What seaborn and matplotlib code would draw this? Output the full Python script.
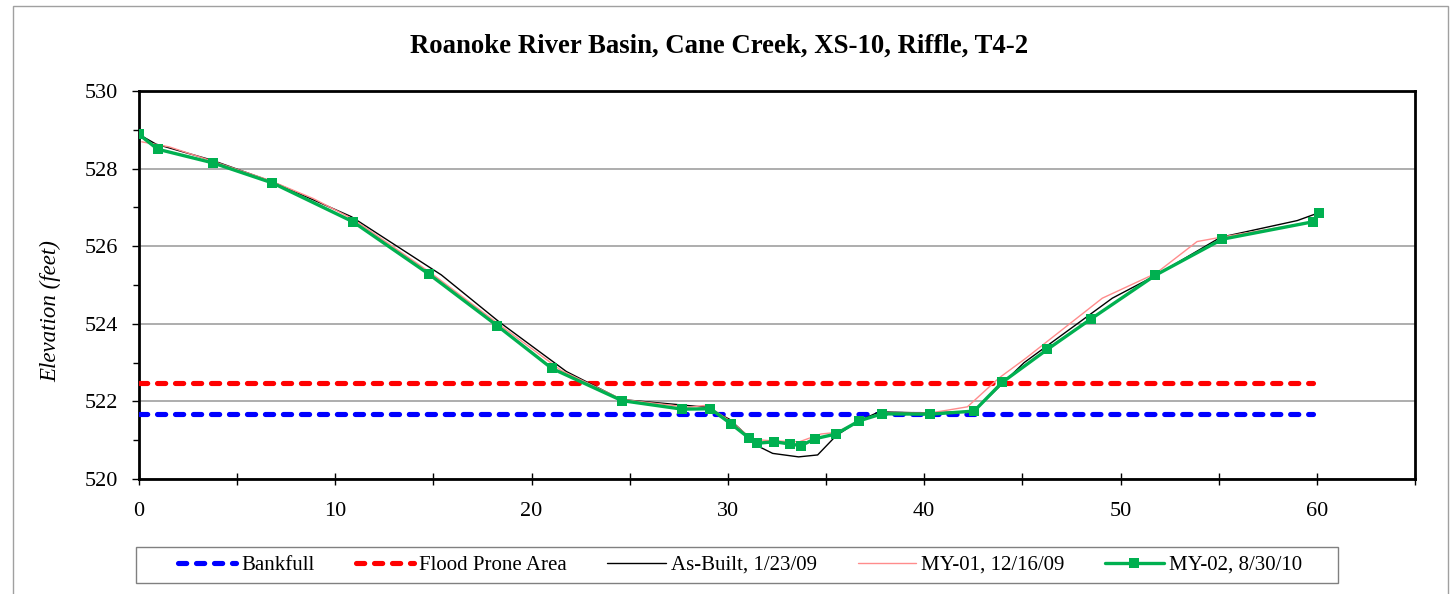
import matplotlib
matplotlib.use("Agg")
import matplotlib.pyplot as plt
import seaborn as sns
import pandas as pd
from matplotlib.lines import Line2D
from matplotlib.patches import Rectangle

sns.set_theme(style="white")
plt.rcParams['font.family'] = ['Liberation Serif', 'DejaVu Serif']
plt.rcParams['text.color'] = 'black'
plt.rcParams['axes.labelcolor'] = 'black'
plt.rcParams['xtick.color'] = 'black'
plt.rcParams['ytick.color'] = 'black'

title = "Roanoke River Basin, Cane Creek, XS-10, Riffle, T4-2"
ylabel = "Elevation (feet)"

bankfull_x = [0, 59.8]
bankfull_y = [521.67, 521.67]
flood_x = [0, 59.8]
flood_y = [522.48, 522.48]

asbuilt_x = [0, 0.87, 3.7, 6.8, 10.82, 15.4, 18.37, 21.77, 24.56, 28.9, 30.08, 31.6, 32.28, 33.6,
             34.57, 35.5, 36.6, 37.7, 40.3, 42.54, 45.09, 49.58, 51.8, 55.1, 59.0, 60.09]
asbuilt_y = [528.88, 528.63, 528.22, 527.66, 526.76, 525.26, 524.04, 522.77, 522.05, 521.85, 521.54,
             520.83, 520.66, 520.57, 520.62, 521.11, 521.48, 521.73, 521.7, 521.75, 523.0, 524.66,
             525.25, 526.23, 526.66, 526.86]

my01_x = [0.14, 1.54, 3.7, 6.58, 8.87, 10.9, 14.9, 18.3, 21.5, 24.6, 28.0, 28.9, 30.1, 31.25, 32.4,
          33.64, 34.74, 35.5, 36.7, 37.8, 40.3, 42.2, 43.8, 45.17, 49.07, 51.8, 53.9, 55.1, 59.81]
my01_y = [528.69, 528.56, 528.2, 527.71, 527.23, 526.7, 525.3, 524.0, 522.8, 522.05, 521.85, 521.9,
          521.5, 521.02, 520.98, 520.96, 521.16, 521.2, 521.5, 521.7, 521.7, 521.86, 522.6, 523.11,
          524.66, 525.3, 526.12, 526.23, 526.63]

my02_x = [0.0, 0.95, 3.75, 6.8, 10.9, 14.77, 18.25, 21.03, 24.6, 27.67, 29.11, 30.16, 31.09, 31.47,
          32.37, 33.18, 33.72, 34.45, 35.51, 36.69, 37.85, 40.29, 42.54, 43.97, 46.27, 48.48, 51.77,
          55.18, 59.81, 60.09]
my02_y = [528.88, 528.50, 528.15, 527.63, 526.63, 525.28, 523.95, 522.85, 522.02, 521.80, 521.81,
          521.42, 521.05, 520.92, 520.96, 520.90, 520.86, 521.04, 521.16, 521.50, 521.68, 521.67,
          521.75, 522.49, 523.34, 524.12, 525.25, 526.18, 526.63, 526.86]

labels = ["Bankfull", "Flood Prone Area", "As-Built, 1/23/09", "MY-01, 12/16/09", "MY-02, 8/30/10"]

W, H = 1456, 594
fig = plt.figure(figsize=(W / 100, H / 100), dpi=100)
ax = fig.add_axes([139 / W, 1 - 479 / H, (1415 - 139) / W, (479 - 91) / H])

ax.set_xlim(0, 65)
ax.set_ylim(520, 530)
ax.set_yticks([520, 522, 524, 526, 528, 530])
ax.set_yticks([521, 523, 525, 527, 529], minor=True)
ax.set_xticks([0, 10, 20, 30, 40, 50, 60])
ax.set_xticks([5, 15, 25, 35, 45, 55, 65], minor=True)
ax.grid(axis='y', which='major', color='#a0a0a0', linewidth=1.2)
ax.set_axisbelow(True)

dash = (1.6, 1.9)
sns.lineplot(x=bankfull_x, y=bankfull_y, ax=ax, color='#0000ff', linewidth=3.7,
             linestyle=(0, dash), dash_capstyle='round', estimator=None, sort=False, zorder=3)
sns.lineplot(x=flood_x, y=flood_y, ax=ax, color='#ff0000', linewidth=3.7,
             linestyle=(0, dash), dash_capstyle='round', estimator=None, sort=False, zorder=3)
sns.lineplot(x=asbuilt_x, y=asbuilt_y, ax=ax, color='black', linewidth=1.0,
             estimator=None, sort=False, zorder=4)
sns.lineplot(x=my01_x, y=my01_y, ax=ax, color='#ff8c8c', linewidth=1.0,
             estimator=None, sort=False, zorder=4)
sns.lineplot(x=my02_x, y=my02_y, ax=ax, color='#00b050', linewidth=2.4, marker='s',
             markersize=7, markeredgewidth=0, estimator=None, sort=False, zorder=5)

for s in ax.spines.values():
    s.set_visible(True)
    s.set_color('black')
    s.set_linewidth(2.0)

ax.tick_params(axis='both', which='both', direction='out', color='black', length=5, width=1,
               labelsize=16, labelcolor='black', bottom=True, left=True)
ax.tick_params(axis='both', which='minor', length=4)
ax.tick_params(axis='x', which='both', direction='inout', length=9, pad=12)
ax.tick_params(axis='y', pad=10)

ax.set_xlabel("")
ax.set_ylabel(ylabel, fontsize=16.5, style='italic')
ax.yaxis.set_label_coords(-0.061, 1 - (311 - 91) / 388)
fig.text(719 / W, 1 - 46 / H, title, ha='center', va='center',
         fontsize=19.3, fontweight='bold')

handles = [
    Line2D([], [], color='#0000ff', linewidth=3.7, linestyle=(0, dash), dash_capstyle='round'),
    Line2D([], [], color='#ff0000', linewidth=3.7, linestyle=(0, dash), dash_capstyle='round'),
    Line2D([], [], color='black', linewidth=1.0),
    Line2D([], [], color='#ff8c8c', linewidth=1.0),
    Line2D([], [], color='#00b050', linewidth=2.4, marker='s', markersize=7, markeredgewidth=0),
]
leg = fig.legend(handles, labels, ncol=5, loc='center',
                 bbox_to_anchor=(740 / W, 1 - 565 / H),
                 fontsize=15, frameon=False,
                 handlelength=2.8, handletextpad=0.25, borderaxespad=0.0, columnspacing=1.95,
                 borderpad=0.3)
fig.patches.append(Rectangle((136 / W, 1 - 583 / H), (1338 - 136) / W, 36 / H,
                             transform=fig.transFigure, fill=False, edgecolor='#808080',
                             linewidth=1.0))

fig.patches.append(Rectangle((13 / W, -0.01), (1448 - 13) / W, 1 - 6 / H + 0.01,
                             transform=fig.transFigure, fill=False, edgecolor='#a0a0a0',
                             linewidth=1.0))

fig.savefig("out.png", dpi=100)
